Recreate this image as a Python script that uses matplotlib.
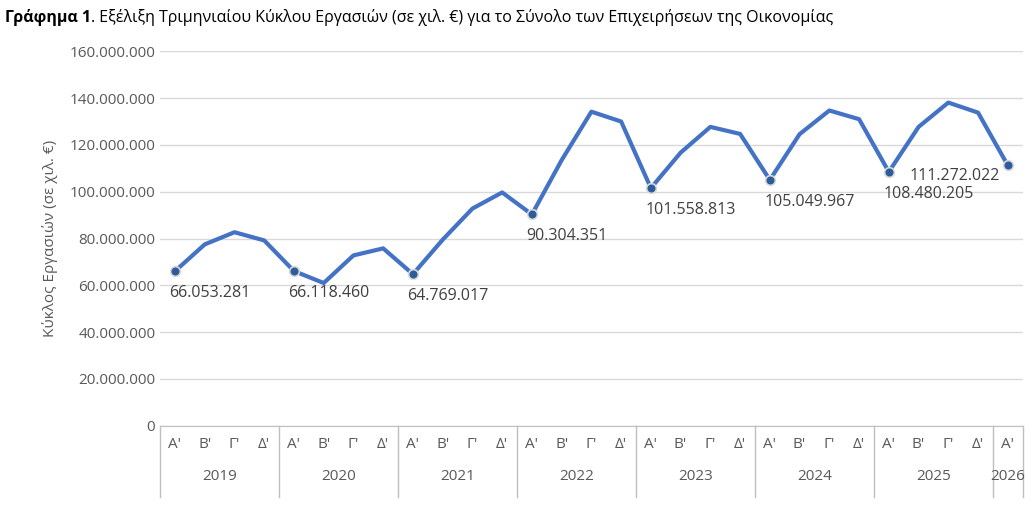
import matplotlib.pyplot as plt
from matplotlib.lines import Line2D

plt.rcParams['font.family'] = ['Open Sans', 'DejaVu Sans']

years = ['2019', '2020', '2021', '2022', '2023', '2024', '2025', '2026']
quarters = ["Α'", "Β'", "Γ'", "Δ'"]
values = [66053281, 77500000, 82700000, 79200000,
          66118460, 61000000, 72800000, 75800000,
          64769017, 79500000, 92800000, 99700000,
          90304351, 113500000, 134200000, 130000000,
          101558813, 116700000, 127700000, 124700000,
          105049967, 124600000, 134700000, 131000000,
          108480205, 127700000, 138100000, 133800000,
          111272022]

def fmt(v):
    return f"{v:,}".replace(',', '.')

fig = plt.figure(figsize=(10.33, 5.13), dpi=100)
ax = fig.add_axes([0.155, 0.17, 0.835, 0.73])
n = len(values)
x = list(range(n))
ax.plot(x, values, color='#4472C4', lw=3, zorder=2)
for i in range(0, n, 4):
    ax.plot(i, values[i], 'o', ms=7, mfc='#2E5C9A', mec='#D9D9D9', mew=1.2, zorder=3)
    if i == n - 1:
        ax.annotate(fmt(values[i]), (i, values[i]), xytext=(-6, -2), textcoords='offset points',
                    ha='right', va='top', fontsize=11.5, color='#404040')
    else:
        ax.annotate(fmt(values[i]), (i, values[i]), xytext=(-4, -10), textcoords='offset points',
                    ha='left', va='top', fontsize=11.5, color='#404040')

ax.set_xlim(-0.5, n - 0.5)
ax.set_ylim(0, 160000000)
ax.set_yticks(range(0, 160000001, 20000000))
ax.set_yticklabels([fmt(v) for v in range(0, 160000001, 20000000)], fontsize=11, color='#595959')
ax.grid(axis='y', color='#D9D9D9', lw=1)
ax.set_axisbelow(True)
for s in ['top', 'right', 'left']:
    ax.spines[s].set_visible(False)
ax.spines['bottom'].set_color('#BFBFBF')
ax.tick_params(axis='y', length=0)
ax.set_xticks(x)
ax.set_xticklabels([quarters[i % 4] for i in x], fontsize=11, color='#595959')
ax.tick_params(axis='x', length=0, pad=8)
ax.set_ylabel('Κύκλος Εργασιών (σε χιλ. €)', fontsize=11, color='#595959', labelpad=8)

tr = ax.get_xaxis_transform()
for k in range(len(years) + 1):
    xs = min(k * 4 - 0.5, n - 0.5)
    ax.add_line(Line2D([xs, xs], [0, -0.19], transform=tr, color='#BFBFBF', lw=1, clip_on=False))
for k, yname in enumerate(years):
    start = k * 4
    end = min(start + 3, n - 1)
    ax.text((start + end) / 2, -0.135, yname, transform=tr, ha='center', va='center',
            fontsize=11, color='#595959')

t = fig.text(0.005, 0.965, "Γράφημα 1", fontsize=11.5, fontweight='bold', va='center')
fig.canvas.draw()
bb = t.get_window_extent()
fig.text(bb.x1 / fig.bbox.width, 0.965,
         ". Εξέλιξη Τριμηνιαίου Κύκλου Εργασιών (σε χιλ. €) για το Σύνολο των Επιχειρήσεων της Οικονομίας",
         fontsize=11.5, va='center')
fig.savefig('out.png', dpi=100)
